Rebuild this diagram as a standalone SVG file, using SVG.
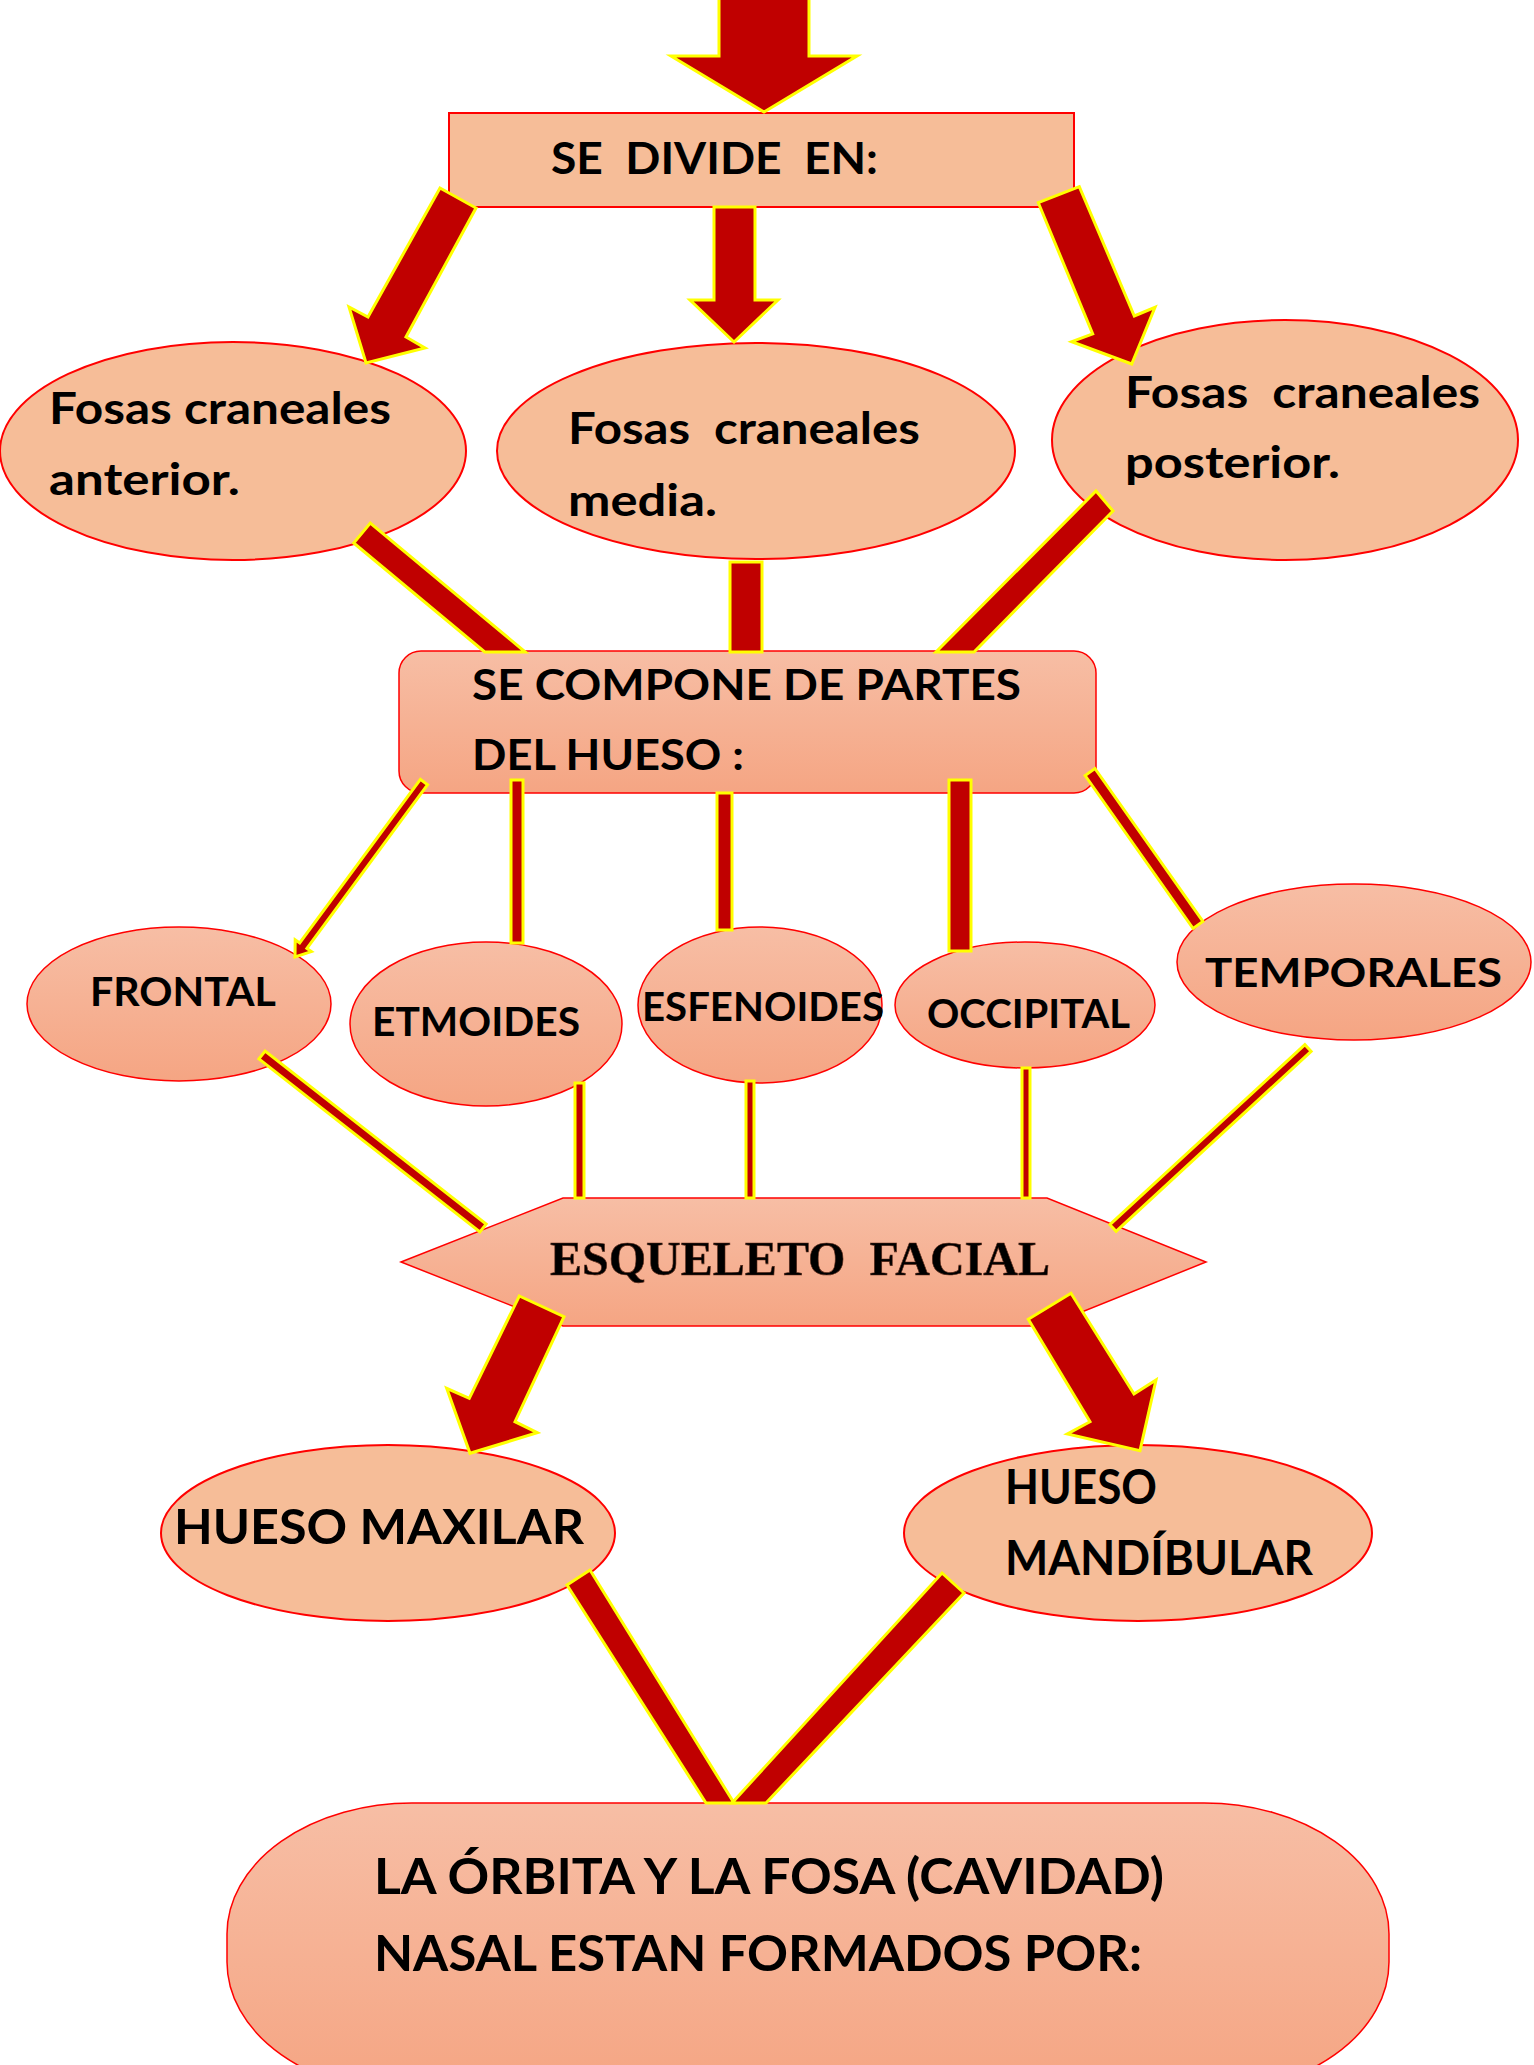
<svg xmlns="http://www.w3.org/2000/svg" width="1534" height="2065" viewBox="0 0 1534 2065" xml:space="preserve">
<defs>
<linearGradient id="g" x1="0" y1="0" x2="0" y2="1">
<stop offset="0" stop-color="#F7BEA5"/>
<stop offset="1" stop-color="#F5A583"/>
</linearGradient>
<style>
.flat{fill:#F6BD98;stroke:#FF0000;stroke-width:2}
.grad{fill:url(#g);stroke:#FF0000;stroke-width:1.5}
.c{fill:#C00000;stroke:#FFFF00;stroke-width:3;stroke-linejoin:miter}
.t{font-family:Lato,"Open Sans","Liberation Sans",sans-serif;font-weight:bold;fill:#000;white-space:pre}
.e{font-family:"Liberation Serif","DejaVu Serif",serif;font-weight:bold;fill:#000;stroke:#5a2a1a;stroke-width:0.6;white-space:pre}
</style>
</defs>
<rect width="1534" height="2065" fill="#FFFFFF"/>

<g id="divide">
<rect class="flat" x="449" y="113" width="625" height="94"/>
<text class="t" xml:space="preserve" x="551" y="174" font-size="43" textLength="327" lengthAdjust="spacingAndGlyphs">SE  DIVIDE  EN:</text>
</g>

<g id="fosa-anterior">
<ellipse class="flat" cx="233" cy="451" rx="233" ry="109"/>
<text class="t" x="49" y="424" font-size="43" textLength="342" lengthAdjust="spacingAndGlyphs">Fosas craneales</text>
<text class="t" x="49" y="495" font-size="43" textLength="191" lengthAdjust="spacingAndGlyphs">anterior.</text>
</g>

<g id="fosa-media">
<ellipse class="flat" cx="756" cy="451" rx="259" ry="108"/>
<text class="t" xml:space="preserve" x="568" y="444" font-size="43" textLength="352" lengthAdjust="spacingAndGlyphs">Fosas  craneales</text>
<text class="t" x="568" y="516" font-size="43" textLength="149" lengthAdjust="spacingAndGlyphs">media.</text>
</g>

<g id="fosa-posterior">
<ellipse class="flat" cx="1285" cy="440" rx="233" ry="120"/>
<text class="t" xml:space="preserve" x="1125" y="408" font-size="43" textLength="355" lengthAdjust="spacingAndGlyphs">Fosas  craneales</text>
<text class="t" x="1125" y="478" font-size="43" textLength="215" lengthAdjust="spacingAndGlyphs">posterior.</text>
</g>

<g id="compone">
<rect class="grad" x="399" y="651" width="697" height="142" rx="22" ry="22"/>
<text class="t" x="472" y="700" font-size="42" textLength="549" lengthAdjust="spacingAndGlyphs">SE COMPONE DE PARTES</text>
<text class="t" x="472" y="770" font-size="42" textLength="272" lengthAdjust="spacingAndGlyphs">DEL HUESO :</text>
</g>

<g id="frontal">
<ellipse class="grad" cx="179" cy="1004" rx="152" ry="77"/>
<text class="t" x="90" y="1006" font-size="40" textLength="186" lengthAdjust="spacingAndGlyphs">FRONTAL</text>
</g>

<g id="etmoides">
<ellipse class="grad" cx="486" cy="1024" rx="136" ry="82"/>
<text class="t" x="372" y="1036" font-size="40" textLength="208" lengthAdjust="spacingAndGlyphs">ETMOIDES</text>
</g>

<g id="esfenoides">
<ellipse class="grad" cx="760" cy="1005" rx="122" ry="78"/>
<text class="t" x="642" y="1021" font-size="40" textLength="242" lengthAdjust="spacingAndGlyphs">ESFENOIDES</text>
</g>

<g id="occipital">
<ellipse class="grad" cx="1025" cy="1005" rx="130" ry="63"/>
<text class="t" x="927" y="1028" font-size="40" textLength="203" lengthAdjust="spacingAndGlyphs">OCCIPITAL</text>
</g>

<g id="temporales">
<ellipse class="grad" cx="1354" cy="962" rx="177" ry="78"/>
<text class="t" x="1205" y="987" font-size="40" textLength="297" lengthAdjust="spacingAndGlyphs">TEMPORALES</text>
</g>

<g id="esqueleto">
<polygon class="grad" points="401,1262 563,1198 1047,1198 1206,1262 1047,1326 563,1326"/>
<text class="e" xml:space="preserve" x="550" y="1275" font-size="48" textLength="500" lengthAdjust="spacingAndGlyphs">ESQUELETO  FACIAL</text>
</g>

<g id="maxilar">
<ellipse class="flat" cx="388" cy="1533" rx="227" ry="88"/>
<text class="t" x="174" y="1544" font-size="48" textLength="410" lengthAdjust="spacingAndGlyphs">HUESO MAXILAR</text>
</g>

<g id="mandibular">
<ellipse class="flat" cx="1138" cy="1533" rx="234" ry="88"/>
<text class="t" x="1005" y="1504" font-size="48" textLength="152" lengthAdjust="spacingAndGlyphs">HUESO</text>
<text class="t" x="1005" y="1575" font-size="48" textLength="308" lengthAdjust="spacingAndGlyphs">MANDÍBULAR</text>
</g>

<g id="orbita">
<rect class="grad" x="227" y="1803" width="1162" height="290" rx="185" ry="131"/>
<text class="t" x="374" y="1894" font-size="50" textLength="790" lengthAdjust="spacingAndGlyphs">LA ÓRBITA Y LA FOSA (CAVIDAD)</text>
<text class="t" x="374" y="1971" font-size="50" textLength="768" lengthAdjust="spacingAndGlyphs">NASAL ESTAN FORMADOS POR:</text>
</g>

<g id="connectors">
<polygon class="c" points="719,-5 809,-5 809,56 857,56 764,112 671,56 719,56"/>
<polygon class="c" points="440,188 476,208 406,337 425,348 366,363 349,307 368,317"/>
<polygon class="c" points="714,207 755,207 755,300 778,300 734,342 690,300 714,300"/>
<polygon class="c" points="1038.3,202.7 1079.3,186.7 1134.3,316 1155,307.3 1131.7,364 1071.7,341.7 1092.7,334"/>

<polygon class="c" points="353.7,543 484.7,652 525.3,652 370.3,523"/>
<rect class="c" x="730" y="562" width="32" height="90"/>
<polygon class="c" points="1096,491 1113,511 974,652 936,652"/>

<polygon class="c" points="427.6,784.7 306.9,948.4 311.4,951.6 295,957 295.2,939.8 299.7,943 420.4,779.3"/>
<rect class="c" x="511" y="780" width="12" height="163"/>
<rect class="c" x="717" y="793" width="15" height="137"/>
<rect class="c" x="949" y="780" width="22" height="171"/>
<polygon class="c" points="1085.1,775.5 1193.1,928.5 1202.9,921.5 1094.9,768.5"/>

<polygon class="c" points="258.9,1058.9 479.9,1231.9 486.1,1224.1 265.1,1051.1"/>
<rect class="c" x="575" y="1083" width="9" height="115"/>
<rect class="c" x="746" y="1081" width="8" height="117"/>
<rect class="c" x="1022" y="1068" width="8" height="130"/>
<polygon class="c" points="1304.9,1044.7 1109.9,1224.7 1116.1,1231.3 1311.1,1051.3"/>

<polygon class="c" points="519.3,1296 564,1316.7 515,1421.7 537.3,1432.7 470,1453.3 446.7,1388.3 469.3,1398.3"/>
<polygon class="c" points="1028.3,1319.3 1071,1293.3 1134,1394 1156,1380 1140,1450.7 1067.3,1434 1090,1421.7"/>

<polygon class="c" points="567,1585 590,1570 734,1803 706,1803"/>
<polygon class="c" points="942,1573 964,1593 766,1803 732,1803"/>
</g>
</svg>
